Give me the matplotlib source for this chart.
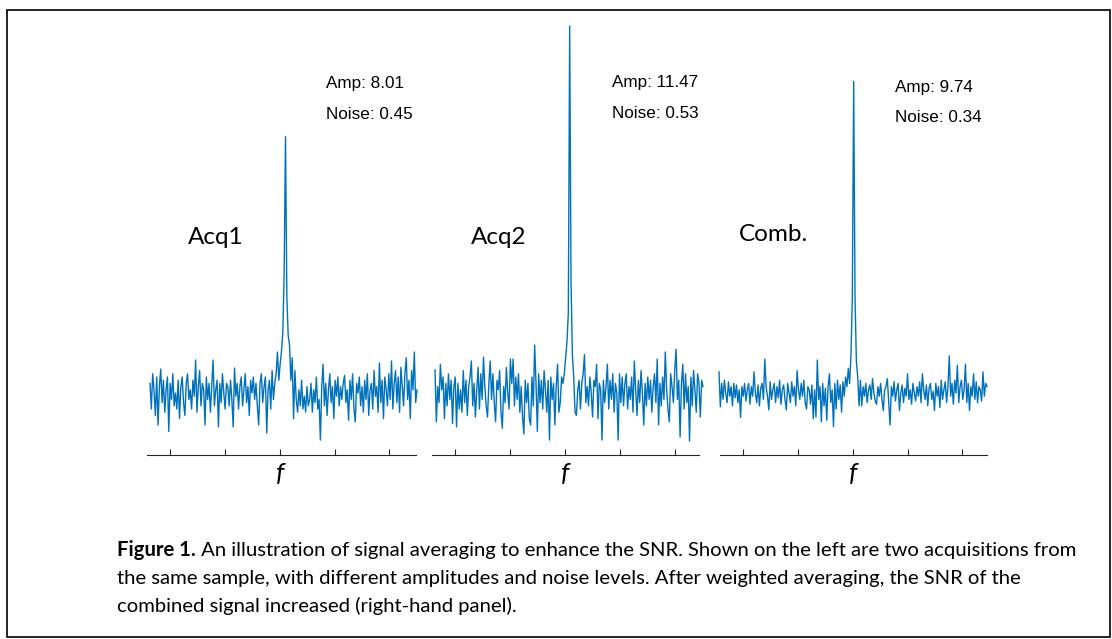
"""
Signal averaging illustration: two acquisitions and their weighted combination.
"""

import matplotlib
import matplotlib.pyplot as plt
from matplotlib.patches import Rectangle
import numpy as np

matplotlib.use("Agg")

# ============================================================================
# Data (spectrum amplitudes, baseline = 0)
# ============================================================================

PANEL_NAMES = ["Acq1", "Acq2", "Comb."]
AMP_LABELS = ["Amp: 8.01", "Amp: 11.47", "Amp: 9.74"]
NOISE_LABELS = ["Noise: 0.45", "Noise: 0.53", "Noise: 0.34"]
FREQ_LABEL = "f"

ACQ1 = [
    0.3, -0.5, 0.6, 0.1, -0.7, 0.5, -1.0, 0.2, 0.75, -0.3, 0.4, -0.6, 0.1, 0.5, -1.2, 0.3, -0.2, 0.6, -0.4, 0.0,
    -0.5, 0.4, -0.8, 0.2, 0.5, -0.3, -0.7, 0.3, 0.6, -0.2, 0.1, -0.5, 0.4, -0.1, 1.03, -0.6, 0.2, 0.7, -0.4, 0.3,
    0.1, -1.0, 0.5, -0.2, 0.3, -0.6, 0.2, 1.03, -0.4, 0.1, 0.4, -1.06, 0.3, -0.3, 0.6, 0.0, -0.5, 0.3, 0.2, -0.4,
    0.4, -0.2, -1.06, 0.78, -0.1, 0.3, -0.5, 0.2, 0.5, -0.4, 0.1, 0.6, -0.3, 0.2, -0.7, 0.4, 0.0, 0.5, -0.2, 0.3,
    -0.4, -1.0, 0.3, 0.6, -0.3, 0.2, 0.5, -1.25, 0.1, 0.4, -0.5, 0.7, -0.2, 0.3, 0.6, 1.28, 0.4, 0.9, 1.3, 1.9,
    3.8, 8.01, 3.0, 1.8, 1.5, 0.4, 1.1, -0.8, 0.7, -0.2, -0.6, 0.1, -0.4, 0.4, -0.5, -0.1, -0.6, 0.2, -0.4, -0.2,
    0.3, -0.6, 0.1, -0.3, 0.5, -0.5, -0.2, -1.47, 0.2, 0.9, -0.4, 0.3, -0.7, 0.1, 0.6, -0.3, 0.2, -0.8, 0.4, -0.1,
    0.5, -0.4, 0.2, -0.2, 0.3, 0.55, -0.3, 0.1, -0.85, 0.4, -0.2, 0.6, -0.5, -0.9, 0.3, 0.0, 0.5, -0.4, 0.2, -0.6,
    0.4, -0.2, 0.6, -0.7, 0.1, 0.3, -0.5, 0.7, -0.1, 0.2, -0.6, 0.94, -0.3, 0.4, -0.8, 0.5, 0.1, -0.4, 0.6, -0.2,
    1.0, -0.5, 0.3, 0.7, -0.3, 0.5, -0.6, 0.8, 0.2, -0.4, 0.6, 1.1, -0.2, 0.4, -0.8, 0.7, 0.1, 1.28, -0.3, 0.1,
]

ACQ2 = [
    0.72, -0.9, 0.2, -0.3, 0.9, 0.1, 0.5, -0.8, 0.3, -0.4, 0.6, -0.2, 0.4, -0.95, 0.2, 0.5, -1.06, 0.3, -0.5, 0.1,
    -0.6, 0.7, -0.3, 0.4, -0.7, 0.2, 0.5, 1.0, -0.4, 0.3, -0.75, 0.1, 0.8, -0.5, 0.6, -0.2, 1.12, 0.2, -0.4, -0.75,
    0.3, 1.0, -0.2, 0.6, -0.3, -0.9, 0.4, 0.1, 0.7, -0.6, -1.1, 0.2, -0.3, 0.8, 0.0, -0.5, 1.06, 0.3, 1.06, -0.4,
    0.5, -0.2, 0.6, -0.6, 0.2, -0.75, -1.28, 0.4, -0.3, 0.3, -0.8, -1.0, 0.5, -0.4, 1.5, 0.3, -1.2, 0.6, -0.3, 0.4,
    -0.5, 0.7, 0.1, -0.6, 0.4, -1.47, 0.5, -0.2, 0.3, -1.0, 0.2, 0.9, -0.6, -0.3, 0.5, 0.3, 0.6, 1.1, 1.6, 2.5,
    11.47, 3.5, 1.2, 0.5, -0.6, -0.7, 0.1, 0.4, -0.5, 0.3, 0.6, 1.2, -0.3, 0.2, -0.4, 0.5, 0.0, -0.75, 0.4, 0.2,
    0.9, -0.8, 0.3, 0.1, -1.47, 0.4, -0.3, 0.2, 0.9, -0.5, 0.4, -0.2, 0.6, -0.6, 0.3, 0.0, -1.47, 0.6, -0.3, 0.5,
    -0.4, 0.3, 0.6, -0.5, 0.2, -0.2, 0.5, -0.6, 1.0, 0.1, -0.7, 0.4, -0.3, 0.7, 0.0, -1.0, 0.3, -0.4, 0.5, -0.2,
    0.4, -0.6, 0.2, 0.6, -0.3, 1.06, -1.0, 0.3, -0.4, 0.5, -0.2, 1.28, 0.1, -0.5, -0.9, 0.6, 0.2, -0.3, 0.7, 1.37,
    -0.2, 0.4, -1.37, 0.3, 0.9, -0.5, 0.6, -0.3, 0.2, -1.5, 0.5, -0.4, 0.7, 0.1, -0.6, 0.6, 0.3, -0.75, 0.4, 0.2,
]

COMB = [
    0.66, -0.43, 0.3, -0.2, 0.4, 0.0, -0.3, 0.35, -0.1, 0.2, -0.4, 0.3, -0.15, 0.25, -0.3, 0.1, -0.76, 0.2, -0.1, 0.3,
    -0.25, 0.1, 0.3, -0.35, 0.2, -0.1, 0.66, 0.0, -0.3, 0.25, -0.4, 0.15, 0.3, -0.2, 1.06, 0.2, -0.1, -0.53, 0.35, -0.2,
    0.1, 0.3, -0.3, 0.2, -0.15, 0.4, -0.35, 0.1, 0.25, -0.2, -0.53, 0.3, 0.0, -0.3, 0.35, -0.1, 0.2, -0.4, 0.7, 0.1,
    -0.2, 0.3, -0.1, 0.4, -0.3, -0.5, 0.2, 0.1, -0.35, 0.25, -0.8, 0.1, -0.75, 1.03, -0.2, 0.2, -0.9, 0.3, -0.4, 0.15,
    -0.85, 0.2, 0.6, -0.3, 0.1, -1.05, 0.3, -0.5, 0.4, -0.2, 0.25, -0.6, 0.35, -0.1, 0.5, 0.2, 0.77, 0.3, 1.2, 3.0,
    9.74, 3.0, 1.0, 0.5, -0.4, 0.4, -0.4, 0.2, -0.1, 0.3, -0.3, 0.1, 0.25, -0.2, 0.45, 0.0, -0.25, -0.35, 0.2, -0.1,
    0.3, -0.2, -0.55, 0.1, 0.2, 0.45, -0.3, -1.0, 0.2, -0.1, 0.35, -0.25, 0.1, 0.3, -0.55, 0.0, 0.25, -0.3, 0.15, -0.1,
    0.6, -0.2, 0.1, -0.35, 0.3, 0.0, -0.25, 0.2, -0.1, 0.35, -0.3, 0.6, 0.1, -0.2, 0.25, -0.4, 0.15, 0.3, -0.2, 0.05,
    -0.55, 0.3, -0.1, 0.2, -0.45, 0.4, -0.2, 0.1, 0.35, -0.3, 0.2, 1.16, -0.1, 0.3, -0.35, 0.4, 0.0, 0.87, -0.3, 0.2,
    0.4, -0.2, 0.1, 0.9, -0.3, 0.3, -0.55, 0.2, -0.1, 0.6, -0.2, 0.35, -0.3, 0.2, 0.1, -0.25, 0.66, -0.1, 0.3, 0.2,
]

CAPTION_BOLD = "Figure 1."
CAPTION_LINES = [
    " An illustration of signal averaging to enhance the SNR. Shown on the left are two acquisitions from",
    "the same sample, with different amplitudes and noise levels. After weighted averaging, the SNR of the",
    "combined signal increased (right-hand panel).",
]

# ============================================================================
# Layout (pixels, measured from top-left of the image)
# ============================================================================

W, H = 1112, 639
DPI = 100
LINE_COLOR = "#0072BD"
AXIS_COLOR = "#262626"

AXIS_Y = 455          # bottom spine
AXIS_TOP = 15
BASE_Y = 393          # noise baseline
PX_PER_UNIT = 32.0

SPINE_X = [(147, 416), (432, 699), (720, 987)]
DATA_X = [(150, 417), (435, 703), (719, 987)]
TICKS_X = [
    [170, 225, 280, 335, 389],
    [455, 510, 565, 620, 675],
    [743, 798, 853, 908, 962],
]
NAME_POS = [(188, 244), (471, 244), (739, 241)]
AMP_POS = [(326, 88), (612, 87), (895, 92)]
NOISE_POS = [(326, 119), (612, 118), (895, 122)]
F_Y = 474

CAPTION_X = 117
CAPTION_BASELINES = [556, 584, 612]
CAPTION_SIZE = 14.6

SANS = ["Lato", "DejaVu Sans"]
ARIAL = ["Liberation Sans", "DejaVu Sans"]


def fx(px):
    return px / W


def fy(py):
    return 1 - py / H


def draw_panel(fig, values, spine, data, ticks):
    n = len(values)
    step = (data[1] - data[0]) / (n - 1)
    x = np.arange(n)

    ax = fig.add_axes([fx(spine[0]), fy(AXIS_Y), (spine[1] - spine[0]) / W,
                       (AXIS_Y - AXIS_TOP) / H])
    ax.plot(x, values, color=LINE_COLOR, linewidth=1.0, clip_on=False)

    ax.set_xlim((spine[0] - data[0]) / step, (spine[1] - data[0]) / step)
    ax.set_ylim(-(AXIS_Y - BASE_Y) / PX_PER_UNIT, (BASE_Y - AXIS_TOP) / PX_PER_UNIT)

    ax.set_xticks([(t - data[0]) / step for t in ticks])
    ax.set_xticklabels([])
    ax.set_yticks([])
    ax.tick_params(axis="x", direction="in", length=4.5, width=0.8, color=AXIS_COLOR)
    for side in ("top", "left", "right"):
        ax.spines[side].set_visible(False)
    ax.spines["bottom"].set_color(AXIS_COLOR)
    ax.spines["bottom"].set_linewidth(0.8)
    ax.patch.set_visible(False)
    return ax


def main():
    fig = plt.figure(figsize=(W / DPI, H / DPI), dpi=DPI)
    fig.patch.set_facecolor("white")

    # outer frame
    fig.patches.append(Rectangle((fx(7), fy(637)), (1110 - 7) / W, (637 - 10) / H,
                                 transform=fig.transFigure, fill=False,
                                 edgecolor="black", linewidth=1.2))

    series = [ACQ1, ACQ2, COMB]
    for i, values in enumerate(series):
        draw_panel(fig, values, SPINE_X[i], DATA_X[i], TICKS_X[i])

        fig.text(fx(NAME_POS[i][0]), fy(NAME_POS[i][1]), PANEL_NAMES[i],
                 family=SANS, fontsize=17.5, va="baseline", ha="left")
        fig.text(fx(AMP_POS[i][0]), fy(AMP_POS[i][1]), AMP_LABELS[i],
                 family=ARIAL, fontsize=12.3, va="baseline", ha="left")
        fig.text(fx(NOISE_POS[i][0]), fy(NOISE_POS[i][1]), NOISE_LABELS[i],
                 family=ARIAL, fontsize=12.3, va="baseline", ha="left")
        fig.text(fx(TICKS_X[i][2]), fy(F_Y), FREQ_LABEL, family=SANS,
                 style="italic", fontsize=19, va="center", ha="center")

    # caption, bold lead-in followed by plain text
    renderer = fig.canvas.get_renderer()
    lead = fig.text(fx(CAPTION_X), fy(CAPTION_BASELINES[0]), CAPTION_BOLD,
                    family=SANS, fontweight="bold", fontsize=CAPTION_SIZE, va="baseline")
    bbox = lead.get_window_extent(renderer)
    fig.text(bbox.x1 / W, fy(CAPTION_BASELINES[0]), CAPTION_LINES[0],
             family=SANS, fontsize=CAPTION_SIZE, va="baseline")
    for line, base in zip(CAPTION_LINES[1:], CAPTION_BASELINES[1:]):
        fig.text(fx(CAPTION_X), fy(base), line, family=SANS, fontsize=CAPTION_SIZE,
                 va="baseline")

    fig.savefig("out.png", dpi=DPI)
    print("[INFO] saved out.png")


if __name__ == "__main__":
    main()
